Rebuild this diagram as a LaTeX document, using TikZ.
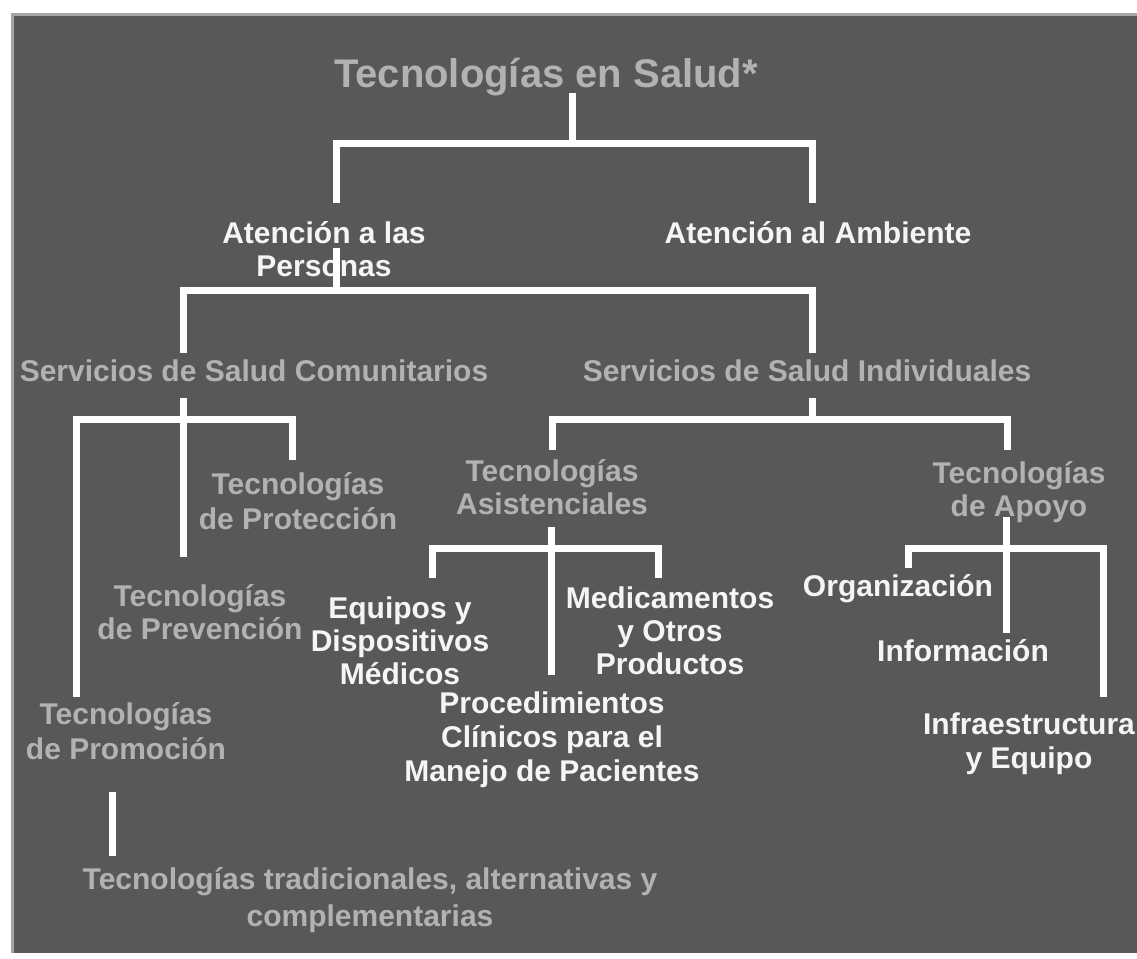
\documentclass[tikz,border=0pt]{standalone}
\usepackage{fontspec}
\setmainfont{Liberation Sans}
\begin{document}
\begin{tikzpicture}[x=1pt,y=-1pt,
  lbl/.style={font=\fontsize{30}{34}\selectfont\bfseries, align=center, anchor=base, inner sep=0pt},
  wtxt/.style={lbl, text=txtwhite},
  gtxt/.style={lbl, text=txtgray},
  conn/.style={draw=white, line width=7pt, line join=miter, line cap=butt}]
\definecolor{bgdark}{RGB}{88,88,88}
\definecolor{bgedge}{RGB}{165,165,165}
\definecolor{txtwhite}{RGB}{245,245,245}
\definecolor{txtgray}{RGB}{178,178,178}
\useasboundingbox (0,0) rectangle (1137,958);
\fill[white] (0,0) rectangle (1137,958);
\fill[bgdark] (12,15) rectangle (1137,953);
\draw[bgedge, line width=3pt] (12,953) -- (12,15) -- (1137,15);

% texts (anchor base = baseline of the last line)
\node[gtxt, font=\fontsize{40}{44}\selectfont\bfseries] (title) at (546,88) {Tecnologías en Salud*};
\node[wtxt, font=\fontsize{30}{33}\selectfont\bfseries] (personas) at (324,276) {Atención a las\\Personas};
\node[wtxt] (ambiente) at (818,243) {Atención al Ambiente};
\node[gtxt] (comun) at (254,381) {Servicios de Salud Comunitarios};
\node[gtxt] (indiv) at (807,381) {Servicios de Salud Individuales};
\node[gtxt, font=\fontsize{30}{35}\selectfont\bfseries] (protec) at (298,529) {Tecnologías\\de Protección};
\node[gtxt, font=\fontsize{30}{33}\selectfont\bfseries] (preven) at (200,639) {Tecnologías\\de Prevención};
\node[gtxt, font=\fontsize{30}{35}\selectfont\bfseries] (promo) at (126,759) {Tecnologías\\de Promoción};
\node[gtxt, font=\fontsize{30}{33}\selectfont\bfseries] (asist) at (552,514) {Tecnologías\\Asistenciales};
\node[gtxt, font=\fontsize{30}{33}\selectfont\bfseries] (apoyo) at (1019,516) {Tecnologías\\de Apoyo};
\node[wtxt, font=\fontsize{30}{33}\selectfont\bfseries] (equipos) at (400,684) {Equipos y\\Dispositivos\\Médicos};
\node[wtxt, font=\fontsize{30}{33}\selectfont\bfseries] (medic) at (670,674) {Medicamentos\\y Otros\\Productos};
\node[wtxt] (proced) at (552,781) {Procedimientos\\Clínicos para el\\Manejo de Pacientes};
\node[wtxt] (organ) at (898,596) {Organización};
\node[wtxt] (inform) at (963,661) {Información};
\node[wtxt] (infra) at (1029,768) {Infraestructura\\y Equipo};
\node[gtxt, font=\fontsize{30}{37}\selectfont\bfseries] (tradic) at (370,926) {Tecnologías tradicionales, alternativas y\\complementarias};

% junction coordinates
\coordinate (t0) at (572,93);   \coordinate (t1) at (572,143);
\coordinate (a0) at (336,203);  \coordinate (a1) at (812,203);
\coordinate (p0) at (336,248);  \coordinate (p1) at (336,290);
\coordinate (s0) at (183,353);  \coordinate (s1) at (812,353);
\coordinate (c0) at (183,398);  \coordinate (c1) at (183,557);
\coordinate (c2) at (76,697);   \coordinate (c3) at (292,460);
\coordinate (i0) at (812,398);  \coordinate (i1) at (812,419);
\coordinate (i2) at (552,450);  \coordinate (i3) at (1007,450);
\coordinate (h0) at (551,527);  \coordinate (h1) at (551,675);
\coordinate (h2) at (432,578);  \coordinate (h3) at (658,578);
\coordinate (o0) at (1006,517); \coordinate (o1) at (1006,633);
\coordinate (o2) at (908,568);  \coordinate (o3) at (1103,697);
\coordinate (b0) at (112,792);  \coordinate (b1) at (112,856);

% connectors
\draw[conn] (t0) -- (t1);
\draw[conn] (a0) |- (t1) -| (a1);
\draw[conn] (p0) -- (p1);
\draw[conn] (s0) |- (p1) -| (s1);
\draw[conn] (c0) -- (c1);
\draw[conn] (c2) |- (183,419) -| (c3);
\draw[conn] (i0) -- (i1);
\draw[conn] (i2) |- (i1) -| (i3);
\draw[conn] (h0) -- (h1);
\draw[conn] (h2) |- (551,548) -| (h3);
\draw[conn] (o0) -- (o1);
\draw[conn] (o2) |- (1006,548) -| (o3);
\draw[conn] (b0) -- (b1);
\end{tikzpicture}
\end{document}
